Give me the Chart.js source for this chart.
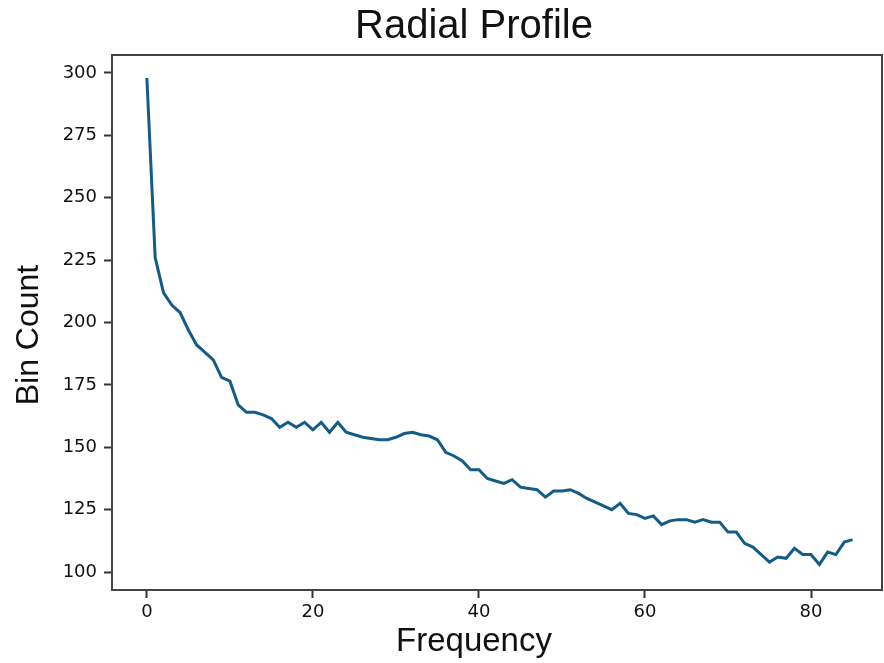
<!DOCTYPE html>
<html>
<head>
<meta charset="utf-8">
<script src="https://cdn.jsdelivr.net/npm/chart.js@4"></script>
<style>
  html, body { margin: 0; padding: 0; background: #fff; }
  #wrap { width: 884px; height: 663px; }
</style>
</head>
<body>
<div id="wrap"><canvas id="profileChart"></canvas></div>
<script>
const frequency = [];
for (let i = 0; i <= 85; i++) frequency.push(i);

const binCount = [
  298, 226, 212, 207, 204, 197, 191, 188, 185, 178,
  176.5, 167, 164, 164, 163, 161.5, 158, 160, 158, 160,
  157, 160, 156, 160, 156, 155, 154, 153.5, 153, 153,
  154, 155.5, 156, 155, 154.5, 153, 148, 146.5, 144.5, 141,
  141, 137.5, 136.5, 135.5, 137, 134, 133.5, 133, 130, 132.5,
  132.5, 133, 131.5, 129.5, 128, 126.5, 125, 127.5, 123.5, 123,
  121.5, 122.5, 119, 120.5, 121, 121, 120, 121, 120, 120,
  116, 116, 111.5, 110, 107, 104, 106, 105.5, 109.5, 107,
  107, 103, 108, 107, 112, 113
];

const xTicks = [0, 20, 40, 60, 80];
const yTicks = [100, 125, 150, 175, 200, 225, 250, 275, 300];

const points = frequency.map((f, i) => ({ x: f, y: binCount[i] }));

// frame on all four sides + titles, like the matplotlib figure
const frameAndTitles = {
  id: 'frameAndTitles',
  afterDraw(chart) {
    const { ctx, chartArea: a } = chart;
    ctx.save();
    ctx.strokeStyle = '#444';
    ctx.lineWidth = 2;
    ctx.strokeRect(a.left, a.top, a.right - a.left, a.bottom - a.top);

    ctx.fillStyle = '#111';
    ctx.textAlign = 'center';
    ctx.textBaseline = 'middle';
    ctx.font = '40px "Liberation Sans", Arial, sans-serif';
    ctx.fillText('Radial Profile', 474, 27);

    ctx.font = '33px "Liberation Sans", Arial, sans-serif';
    ctx.fillText('Frequency', 474, 642);

    ctx.translate(29, 335);
    ctx.rotate(-Math.PI / 2);
    ctx.font = '32px "Liberation Sans", Arial, sans-serif';
    ctx.fillText('Bin Count', 0, 0);
    ctx.restore();
  }
};

new Chart(document.getElementById('profileChart'), {
  type: 'line',
  data: {
    datasets: [{
      data: points,
      borderColor: '#135c88',
      borderWidth: 3,
      pointRadius: 0,
      tension: 0,
      fill: false
    }]
  },
  options: {
    responsive: true,
    maintainAspectRatio: false,
    animation: false,
    layout: { padding: { top: 55, right: 2, left: 0, bottom: 0 } },
    plugins: {
      legend: { display: false },
      tooltip: { enabled: false }
    },
    scales: {
      x: {
        type: 'linear',
        min: -4.2,
        max: 88.55,
        afterBuildTicks: s => { s.ticks = xTicks.map(v => ({ value: v })); },
        afterFit: s => { s.height = 73; },
        grid: { drawOnChartArea: false, tickLength: 8, color: '#333', tickWidth: 2 },
        border: { display: false },
        ticks: {
          padding: 4,
          color: '#111',
          font: { family: 'DejaVu Sans', size: 18 }
        }
      },
      y: {
        min: 92.8,
        max: 307.2,
        afterBuildTicks: s => { s.ticks = yTicks.map(v => ({ value: v })); },
        afterFit: s => { s.width = 112; },
        grid: { drawOnChartArea: false, tickLength: 8, color: '#333', tickWidth: 2 },
        border: { display: false },
        ticks: {
          padding: 7,
          color: '#111',
          font: { family: 'DejaVu Sans', size: 18 }
        }
      }
    }
  },
  plugins: [frameAndTitles]
});
</script>
</body>
</html>
